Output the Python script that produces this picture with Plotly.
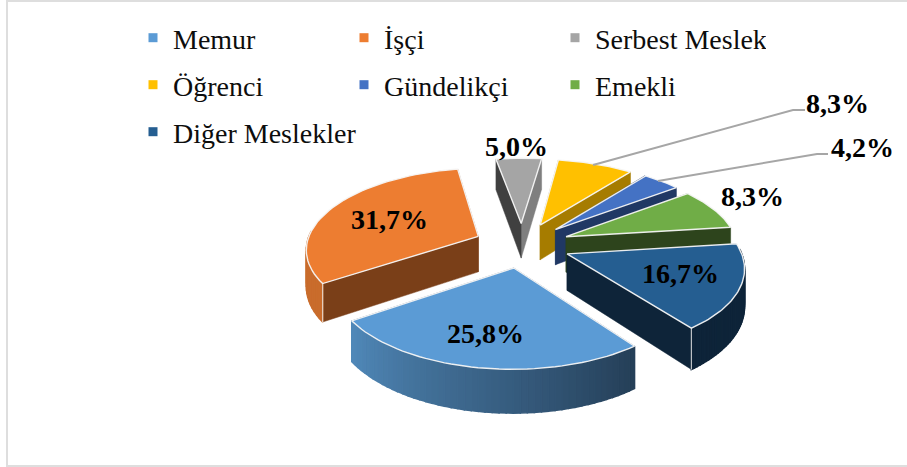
import math
import plotly.graph_objects as go

# data
categories = ["Memur", "İşçi", "Serbest Meslek", "Öğrenci", "Gündelikçi", "Emekli", "Diğer Meslekler"]
values = [25.8, 31.7, 5.0, 8.3, 4.2, 8.3, 16.7]

# styles
top_colors = ["#5B9BD5", "#ED7D31", "#A5A5A5", "#FFC000", "#4472C4", "#70AD47", "#255E91"]
wall_colors = {
    "Memur": "#253F58", "İşçi": "#7A3F18", "Serbest Meslek": "#7F7F7F", "Öğrenci": "#A67C00",
    "Gündelikçi": "#203864", "Emekli": "#2D441C", "Diğer Meslekler": "#0E2439",
}
start_wall = {"Serbest Meslek": "#404040"}
paint_order = ["Serbest Meslek", "Öğrenci", "Gündelikçi", "Emekli", "İşçi", "Diğer Meslekler", "Memur"]
label_xy = [(485, 333), (389, 219), (516, 146), (837, 103), (862, 147), (752, 196), (680, 273)]
legend_rows = [["Memur", "İşçi", "Serbest Meslek"], ["Öğrenci", "Gündelikçi", "Emekli"], ["Diğer Meslekler"]]

# projection settings
CX, CY, A, B, PERSP, EXPLODE, DEPTH, START = 522, 245, 172, 80, 0.14, 0.28, 36, 53


def project(x, y, z=0.0):
    s = 1 / (1 - PERSP * y)
    return CX + A * x * s, CY + B * y * s + DEPTH * z * s


def hexmix(c1, c2, t):
    a = [int(c1[i:i + 2], 16) for i in (1, 3, 5)]
    b = [int(c2[i:i + 2], 16) for i in (1, 3, 5)]
    return "#%02x%02x%02x" % tuple(round(p + (q - p) * t) for p, q in zip(a, b))


fig = go.Figure()


def poly(pts, fill, line, width):
    xs, ys = zip(*pts)
    fig.add_trace(go.Scatter(
        x=list(xs) + [xs[0]], y=list(ys) + [ys[0]], mode="lines", fill="toself", fillcolor=fill,
        line=dict(color=line, width=width), showlegend=False, hoverinfo="skip",
    ))


spans = {}
angle = START
for c, v in zip(categories, values):
    spans[c] = (angle, angle + v * 3.6)
    angle += v * 3.6

for c in paint_order:
    a0, a1 = spans[c]
    mid = math.radians((a0 + a1) / 2)
    ox, oy = EXPLODE * math.cos(mid), EXPLODE * math.sin(mid)
    n = 48
    ts = [math.radians(a0 + (a1 - a0) * i / n) for i in range(n + 1)]
    rim = [(ox + math.cos(t), oy + math.sin(t)) for t in ts]
    wall = wall_colors[c]

    # radial walls, the farther one first
    walls = [(rim[0], start_wall.get(c, wall)), (rim[-1], wall)]
    walls.sort(key=lambda w: w[0][1])
    for p, col in walls:
        poly([project(ox, oy), project(*p), project(*p, 1), project(ox, oy, 1)], col, col, 0.5)

    # outer wall, drawn as strips so it can shade along the rim
    for i in range(n):
        if math.sin(ts[i]) < -0.05 and math.sin(ts[i + 1]) < -0.05:
            continue
        p, q = rim[i], rim[i + 1]
        if c == "Memur":
            col = hexmix("#253F58", "#5088B8", i / (n - 1))
        elif c == "İşçi":
            col = "#C96C2C"
        else:
            col = wall
        poly([project(*p), project(*q), project(*q, 1), project(*p, 1)], col, col, 1.5)

    # light seam down the visible corner
    corner = {"İşçi": rim[0], "Diğer Meslekler": rim[-1]}.get(c)
    if corner is not None:
        s0, s1 = project(*corner), project(*corner, 1)
        fig.add_trace(go.Scatter(x=[s0[0], s1[0]], y=[s0[1], s1[1]], mode="lines",
                                 line=dict(color="rgba(235,235,235,0.8)", width=1.2),
                                 showlegend=False, hoverinfo="skip"))

    # top face
    top = [project(ox, oy)] + [project(*p) for p in rim]
    poly(top, top_colors[categories.index(c)], "rgba(245,245,245,0.95)", 1.4)

# legend
for i, row in enumerate(legend_rows):
    lname = "legend" if i == 0 else f"legend{i + 1}"
    for c in row:
        fig.add_trace(go.Scatter(
            x=[None], y=[None], mode="markers", name=c, legend=lname,
            marker=dict(symbol="square", size=9, color=top_colors[categories.index(c)]),
        ))

legend_style = dict(
    orientation="h", x=133 / 907, xanchor="left", yanchor="middle",
    entrywidth=166, entrywidthmode="pixels", bgcolor="rgba(0,0,0,0)", borderwidth=0,
    font=dict(family="Liberation Serif", size=28, color="#0d0d0d"), traceorder="normal",
    itemclick=False, itemdoubleclick=False,
)
row_y = [38, 85, 132]

annotations = [
    dict(x=x, y=y, xref="x", yref="y", text=f"<b>{v:.1f}%</b>".replace(".", ","), showarrow=False,
         xanchor="center", yanchor="middle",
         font=dict(family="Liberation Serif", size=28, color="#000000"))
    for v, (x, y) in zip(values, label_xy)
]

shapes = [
    dict(type="rect", xref="x", yref="y", x0=7, y0=1, x1=920, y1=466, layer="below",
         line=dict(color="#DEDEDE", width=2), fillcolor="white"),
    dict(type="path", xref="x", yref="y", path="M593,165 L793,110 L805,110", line=dict(color="#A6A6A6", width=2)),
    dict(type="path", xref="x", yref="y", path="M658,181 L817,154 L828,154", line=dict(color="#A6A6A6", width=2)),
]

fig.update_layout(
    width=907, height=467, margin=dict(l=0, r=0, t=0, b=0),
    paper_bgcolor="white", plot_bgcolor="white",
    xaxis=dict(range=[0, 907], visible=False, fixedrange=True),
    yaxis=dict(range=[467, 0], visible=False, fixedrange=True),
    legend=dict(legend_style, y=1 - row_y[0] / 467),
    legend2=dict(legend_style, y=1 - row_y[1] / 467),
    legend3=dict(legend_style, y=1 - row_y[2] / 467, entrywidth=260),
    annotations=annotations, shapes=shapes,
)

fig.write_html("out.html", config={"displayModeBar": False},
               post_script="document.body.style.margin='0';")
